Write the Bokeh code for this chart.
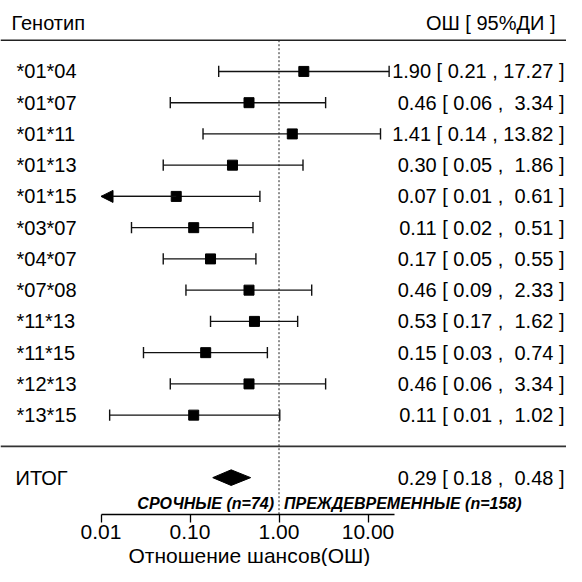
from bokeh.plotting import figure
from bokeh.models import (Range1d, Span, LabelSet, Label, ColumnDataSource,
                          FixedTicker, NumeralTickFormatter, Arrow, NormalHead, Title)
from bokeh.core.properties import value
from bokeh.embed import file_html
from bokeh.resources import INLINE

# ---- data ----
genotypes = ["*01*04", "*01*07", "*01*11", "*01*13", "*01*15", "*03*07",
             "*04*07", "*07*08", "*11*13", "*11*15", "*12*13", "*13*15"]
or_est = [1.90, 0.46, 1.41, 0.30, 0.07, 0.11, 0.17, 0.46, 0.53, 0.15, 0.46, 0.11]
ci_low = [0.21, 0.06, 0.14, 0.05, 0.008, 0.022, 0.05, 0.09, 0.17, 0.03, 0.06, 0.0125]
ci_high = [17.27, 3.34, 13.82, 1.86, 0.61, 0.51, 0.55, 2.33, 1.62, 0.74, 3.34, 1.02]

summary_label = "ИТОГ"
summary_est = 0.29
summary_low = 0.18
summary_high = 0.48

axis_ticks = [0.01, 0.1, 1, 10]
axis_limits = (0.01, 20)

header_left = "Генотип"
header_right = "ОШ [ 95%ДИ ]"
group_left = "СРОЧНЫЕ (n=74)"
group_right = "ПРЕЖДЕВРЕМЕННЫЕ (n=158)"
x_title = "Отношение шансов(ОШ)"

FONT = "Liberation Sans"
NB = "\u00a0"


def fmt(e, lo, hi):
    return (f"{e:.2f} [ {lo:.2f} , " + f"{hi:.2f}".rjust(5, NB) + " ]")


n = len(genotypes)
rows = list(range(n))
line_row = n          # separator line
sum_row = n + 1       # summary row
bottom = sum_row + 1.18
top = -2.27
TH = 0.18             # half height of whisker ends

alim_lo, alim_hi = axis_limits
clip_low = [max(l, alim_lo) for l in ci_low]

src = ColumnDataSource(dict(
    y=rows, est=or_est, lo=ci_low, hi=ci_high, lo_c=clip_low,
    name=genotypes,
    lab=[fmt(e, l, h) for e, l, h in zip(or_est, ci_low, ci_high)],
))
tx = [l for l in ci_low if l >= alim_lo] + ci_high
ty = [r for r, l in zip(rows, ci_low) if l >= alim_lo] + rows
tick_src = ColumnDataSource(dict(
    x=tx, y0=[v - TH for v in ty], y1=[v + TH for v in ty],
))

p = figure(width=566, height=566, x_axis_type="log",
           x_range=Range1d(0.000742, 1700), y_range=Range1d(bottom, top),
           output_backend="svg", toolbar_location=None,
           min_border_left=0, min_border_right=0, min_border_top=0,
           min_border_bottom=40, y_axis_location=None,
           outline_line_color=None, background_fill_color="white",
           border_fill_color="white")
p.grid.visible = False

LC = "#111111"
LW = 1.4

# separators
p.add_layout(Span(location=-1, dimension="width", line_color="#222222", line_width=1.6))
p.add_layout(Span(location=line_row, dimension="width", line_color="#333333", line_width=1.6))

# reference line at OR = 1
p.segment(x0=[1], x1=[1], y0=[-1], y1=[bottom], line_color="#222222",
          line_width=1, line_dash="2 2")

# CIs
p.segment(x0="lo_c", x1="hi", y0="y", y1="y", source=src, line_color=LC, line_width=LW)
p.segment(x0="x", x1="x", y0="y0", y1="y1", source=tick_src,
          line_color=LC, line_width=LW)
# arrows where CI goes beyond axis limit
for r, l, e in zip(rows, ci_low, or_est):
    if l < alim_lo:
        p.add_layout(Arrow(end=NormalHead(size=12, fill_color="black", line_color="black"),
                           x_start=e, y_start=r, x_end=alim_lo, y_end=r,
                           line_color=LC, line_width=LW))

p.scatter(x="est", y="y", source=src, marker="square", size=10,
          fill_color="black", line_color="black")

# summary diamond
h = 0.25
p.patch(x=[summary_low, summary_est, summary_high, summary_est],
        y=[sum_row, sum_row - h, sum_row, sum_row + h],
        fill_color="black", line_color="black")

# texts
TS = "20px"
p.add_layout(LabelSet(x=16, y="y", x_units="screen", text="name", source=src,
                      text_font=value(FONT), text_font_size=TS,
                      text_baseline="middle", text_align="left", text_color="black"))
p.add_layout(LabelSet(x=564, y="y", x_units="screen", text="lab", source=src,
                      text_font=value(FONT), text_font_size=TS,
                      text_baseline="middle", text_align="right", text_color="black"))
p.add_layout(Label(x=11, y=-1.55, x_units="screen", text=header_left,
                   text_font=FONT, text_font_size=TS,
                   text_baseline="middle", text_align="left", text_color="black"))
p.add_layout(Label(x=555, y=-1.55, x_units="screen", text=header_right,
                   text_font=FONT, text_font_size=TS,
                   text_baseline="middle", text_align="right", text_color="black"))
p.add_layout(Label(x=15, y=sum_row, x_units="screen", text=summary_label,
                   text_font=FONT, text_font_size=TS,
                   text_baseline="middle", text_align="left", text_color="black"))
p.add_layout(Label(x=564, y=sum_row, x_units="screen",
                   text=fmt(summary_est, summary_low, summary_high),
                   text_font=FONT, text_font_size=TS,
                   text_baseline="middle", text_align="right", text_color="black"))
p.add_layout(Label(x=1, y=sum_row + 0.82, x_offset=-5, text=group_left,
                   text_font=FONT, text_font_size="16px",
                   text_font_style="bold italic",
                   text_baseline="middle", text_align="right", text_color="black"))
p.add_layout(Label(x=1, y=sum_row + 0.82, x_offset=5, text=group_right,
                   text_font=FONT, text_font_size="16px",
                   text_font_style="bold italic",
                   text_baseline="middle", text_align="left", text_color="black"))

# axis
ax = p.xaxis[0]
ax.ticker = FixedTicker(ticks=axis_ticks)
ax.formatter = NumeralTickFormatter(format="0.00")
ax.bounds = axis_limits
ax.axis_line_color = "black"
ax.axis_line_width = 1.3
ax.major_tick_line_color = "black"
ax.major_tick_line_width = 1.3
ax.major_tick_in = 0
ax.major_tick_out = 8
ax.minor_tick_line_color = None
ax.major_label_standoff = 2
ax.major_label_text_font = FONT
ax.major_label_text_font_size = "21px"
ax.major_label_text_color = "black"

p.add_layout(Title(text=x_title, align="left", offset=128, standoff=0,
                   text_font=FONT, text_font_size="21px",
                   text_font_style="normal", text_color="black"), "below")

open("out.html", "w").write(file_html(p, INLINE))
